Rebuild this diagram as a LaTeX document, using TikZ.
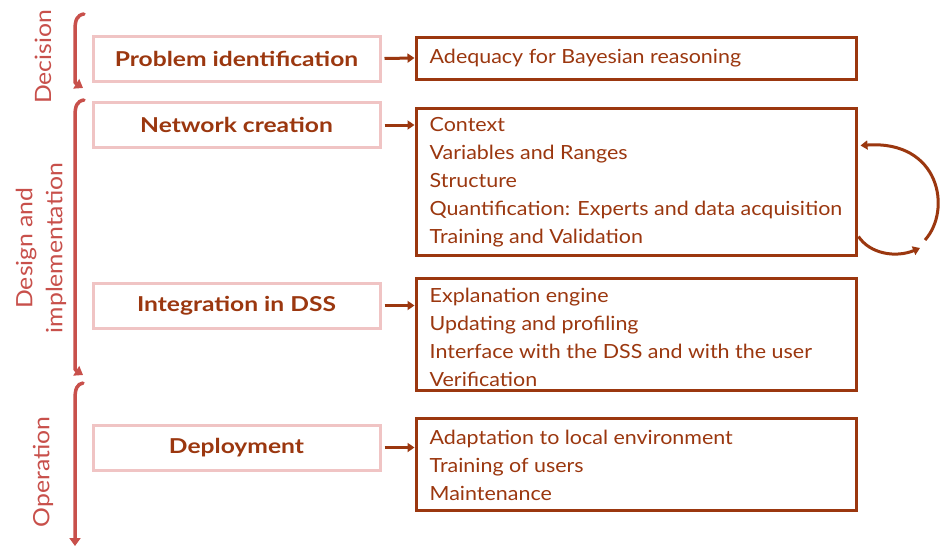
\documentclass[tikz,border=0pt]{standalone}
\usepackage{fontspec}
\setmainfont{Lato}[FakeStretch=1.1]
\newfontfamily\boldf{Lato Bold}[FakeStretch=1.2]
\usetikzlibrary{arrows.meta}
\definecolor{dark}{RGB}{155,55,15}
\definecolor{brace}{RGB}{200,80,75}
\definecolor{pinkb}{RGB}{240,196,196}
\tikzset{
  leftbox/.style={draw=pinkb, line width=3pt, minimum width=287pt, minimum height=45pt, inner sep=0pt,
    text=dark, font=\boldf\fontsize{20.5}{24}\selectfont},
  rightbox/.style={draw=dark, line width=3pt, minimum width=440pt, inner sep=0pt},
  rtext/.style={anchor=west, align=left, text=dark, inner sep=0pt,
    font=\fontsize{19.5}{28}\selectfont},
  arr/.style={draw=dark, line width=3pt, -{Triangle[length=7pt,width=9pt]}},
  bracel/.style={draw=brace, line width=3.5pt, line cap=round, -{Triangle[length=8pt,width=11pt]}},
  sidelab/.style={rotate=90, text=brace, font=\fontsize{22.5}{30}\selectfont, align=center}
}
\begin{document}
\begin{tikzpicture}[x=1pt,y=-1pt]
\fill[white] (0,0) rectangle (942,546);
\useasboundingbox (0,0) rectangle (942,546);

% side labels
\node[sidelab] (labD) at (43,57) {Decision};
\node[sidelab] (labI) at (41,248) {Design and\\implementation};
\node[sidelab] (labO) at (43,472) {Operation};

% braces
\draw[bracel] (84,14) .. controls (77,15) and (75,20) .. (75,30) -- (75,78) .. controls (75,83) .. (83,88);
\draw[bracel] (84,100) .. controls (77,101) and (75,106) .. (75,116) -- (75,364) .. controls (75,370) .. (83,375);
\draw[bracel] (83,383) .. controls (77,384) and (75,389) .. (75,399) -- (75,546);

% left boxes
\node[leftbox] (l1) at (236.5,58.5) {Problem identification};
\node[leftbox] (l2) at (236.5,125) {Network creation};
\node[leftbox] (l3) at (236.5,305.5) {Integration in DSS};
\node[leftbox] (l4) at (236.5,447.5) {Deployment};

% right boxes
\node[rightbox, minimum height=42pt] (r1) at (636,58) {};
\node[rightbox, minimum height=147pt] (r2) at (636,181.5) {};
\node[rightbox, minimum height=112pt] (r3) at (636,334) {};
\node[rightbox, minimum height=92pt] (r4) at (636,464) {};

\node[rtext] (t1) at ([xshift=15pt]r1.west) {Adequacy for Bayesian reasoning};
\node[rtext] (t2) at ([xshift=15pt,yshift=-0.5pt]r2.west) {Context\\Variables and Ranges\\Structure\\Quantification: Experts and data acquisition\\Training and Validation};
\node[rtext] (t3) at ([xshift=15pt,yshift=-3pt]r3.west) {Explanation engine\\Updating and profiling\\Interface with the DSS and with the user\\Verification};
\node[rtext] (t4) at ([xshift=15pt,yshift=-1pt]r4.west) {Adaptation to local environment\\Training of users\\Maintenance};

% arrows
\draw[arr] ([xshift=3pt]l1.east) -- (r1.west);
\draw[arr] ([xshift=3pt]l2.east) -- (l2.east -| r2.west);
\draw[arr] ([xshift=3pt]l3.east) -- (l3.east -| r3.west);
\draw[arr] ([xshift=3pt]l4.east) -- (l4.east -| r4.west);

% loop
\coordinate (la) at ([xshift=1pt,yshift=-55pt]r2.east);
\coordinate (lb) at (920,248);
\coordinate (lc) at (925,240);
\coordinate (ld) at ([xshift=3pt,yshift=36pt]r2.east);
\draw[arr] (la) .. controls (870,254) and (896,258) .. (lb);
\draw[arr] (lc) .. controls (952,210) and (940,140) .. (ld);
\end{tikzpicture}
\end{document}
